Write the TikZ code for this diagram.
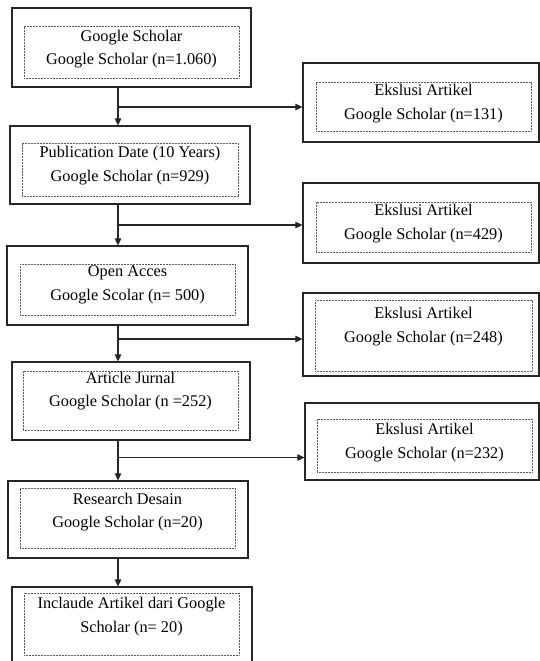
\documentclass[tikz,border=0pt]{standalone}
\usepackage{fontspec}
\setmainfont{Liberation Serif}
\usetikzlibrary{arrows.meta}
\tikzset{
  outerbox/.style={draw=black!85, line width=1.2pt, inner sep=0pt, fill=none},
  innerbox/.style={draw=black!65, line width=0.8pt, dash pattern=on 0.7pt off 0.8pt, inner sep=0pt},
  txt/.style={align=center, inner sep=0pt, font=\fontsize{16.3}{23.5}\selectfont},
  arr/.style={line width=1.1pt, draw=black!85, -{Triangle[length=7pt,width=6.5pt]}},
  ln/.style={line width=1.1pt, draw=black!85}
}
\begin{document}
\begin{tikzpicture}[x=1pt,y=-1pt]
\useasboundingbox (0,0) rectangle (540,661);
\begin{scope}
\clip (0,0) rectangle (540,661);
% left column
\node[outerbox, minimum width=239pt, minimum height=79pt] (b1) at (131.5,47.5) {};
\node[innerbox, minimum width=215pt, minimum height=52pt] (b1i) at (131.5,52) {};
\node[txt] (b1t) at (131.5,49) {Google Scholar\\Google Scholar (n=1.060)};

\node[outerbox, minimum width=240pt, minimum height=78pt] (b2) at (130,165) {};
\node[innerbox, minimum width=216pt, minimum height=53pt] (b2i) at (130,169.5) {};
\node[txt] (b2t) at (130,165.5) {Publication Date (10 Years)\\Google Scholar (n=929)};

\node[outerbox, minimum width=241pt, minimum height=79pt] (b3) at (127.5,285.5) {};
\node[innerbox, minimum width=215pt, minimum height=51pt] (b3i) at (127.5,289.5) {};
\node[txt] (b3t) at (127.5,285) {Open Acces\\Google Scolar (n= 500)};

\node[outerbox, minimum width=238pt, minimum height=78pt] (b4) at (131,401) {};
\node[innerbox, minimum width=215pt, minimum height=59pt] (b4i) at (130.5,400.5) {};
\node[txt] (b4t) at (130.5,391) {Article Jurnal\\Google Scholar (n =252)};

\node[outerbox, minimum width=240pt, minimum height=77pt] (b5) at (128,519.5) {};
\node[innerbox, minimum width=215pt, minimum height=60pt] (b5i) at (127.5,518) {};
\node[txt] (b5t) at (127.5,512) {Research Desain\\Google Scholar (n=20)};

\node[outerbox, minimum width=240pt, minimum height=83pt] (b6) at (132,628.5) {};
\node[innerbox, minimum width=215pt, minimum height=62pt] (b6i) at (131.5,624) {};
\node[txt] (b6t) at (131.5,616.5) {Inclaude Artikel dari Google\\Scholar (n= 20)};

% right column
\node[outerbox, minimum width=236pt, minimum height=79pt] (r1) at (421,102.5) {};
\node[innerbox, minimum width=215pt, minimum height=49pt] (r1i) at (423.5,106.5) {};
\node[txt] (r1t) at (423.5,103.5) {Ekslusi Artikel\\Google Scholar (n=131)};

\node[outerbox, minimum width=236pt, minimum height=80pt] (r2) at (421,223) {};
\node[innerbox, minimum width=215pt, minimum height=50pt] (r2i) at (423.5,227) {};
\node[txt] (r2t) at (423.5,223.5) {Ekslusi Artikel\\Google Scholar (n=429)};

\node[outerbox, minimum width=236pt, minimum height=83pt] (r3) at (421,334.5) {};
\node[innerbox, minimum width=217pt, minimum height=71pt] (r3i) at (423.5,335.5) {};
\node[txt] (r3t) at (423.5,326.5) {Ekslusi Artikel\\Google Scholar (n=248)};

\node[outerbox, minimum width=234pt, minimum height=77pt] (r4) at (422,441.5) {};
\node[innerbox, minimum width=215pt, minimum height=53pt] (r4i) at (424.5,445.5) {};
\node[txt] (r4t) at (424.5,442.5) {Ekslusi Artikel\\Google Scholar (n=232)};

% connectors
\coordinate (spine) at (118,0);
\coordinate (j1) at (118,107);
\coordinate (j2) at (118,225);
\coordinate (j3) at (118,339);
\coordinate (j4) at (118,457.5);

\draw[arr] (b1.south -| spine) -- (b2.north -| spine);
\draw[arr] (b2.south -| spine) -- (b3.north -| spine);
\draw[arr] (b3.south -| spine) -- (b4.north -| spine);
\draw[arr] (b4.south -| spine) -- (b5.north -| spine);
\draw[arr] (b5.south -| spine) -- (b6.north -| spine);

\draw[arr] (j1) -- (j1 -| r1.west);
\draw[arr] (j2) -- (j2 -| r2.west);
\draw[arr] (j3) -- (j3 -| r3.west);
\draw[arr] (j4) -- (j4 -| r4.west);
\end{scope}
\end{tikzpicture}
\end{document}
